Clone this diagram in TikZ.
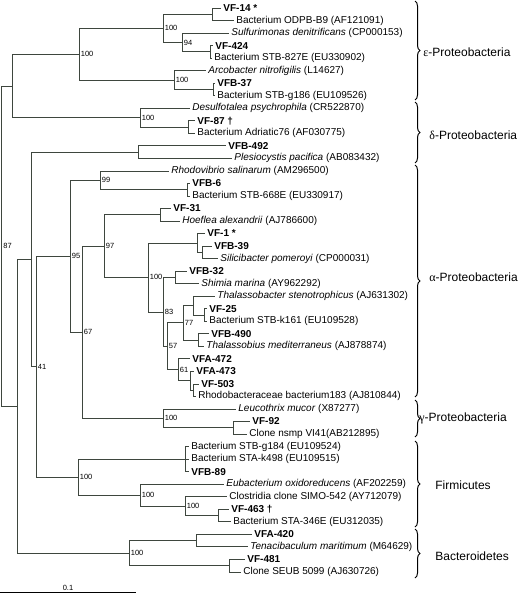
\documentclass[tikz,border=0pt]{standalone}
\usepackage{fontspec}
\setmainfont{Liberation Sans}
\newfontfamily\grk{Liberation Serif}
\usetikzlibrary{positioning, decorations.pathreplacing}
\definecolor{treeline}{RGB}{62,70,62}

\begin{document}
\begin{tikzpicture}[x=1pt, y=-1pt, line width=0.8pt,
  taxon/.style={anchor=west, inner sep=2pt, font=\fontsize{10}{11}\selectfont},
  isolate/.style={taxon, font=\fontsize{10}{11}\selectfont\bfseries},
  boot/.style={anchor=west, inner sep=0.5pt, font=\fontsize{7.5}{8}\selectfont},
  clade/.style={anchor=west, inner sep=0pt, font=\fontsize{12}{14}\selectfont},
  bracket/.style={decorate, decoration={brace, amplitude=5pt}, line width=1pt}]

  \useasboundingbox (0,0) rectangle (520,594);

  % --- 1. taxa ---
  \node[isolate] (VF14)    at (221,8.0)   {VF-14 *};
  \node[taxon]   (ODPB)    at (234,20.5)  {Bacterium ODPB-B9 (AF121091)};
  \node[taxon]   (Sulf)    at (229,33.1)  {\textit{Sulfurimonas denitrificans} (CP000153)};
  \node[isolate] (VF424)   at (213,45.6)  {VF-424};
  \node[taxon]   (STB827)  at (212,58.1)  {Bacterium STB-827E (EU330902)};
  \node[taxon]   (Arco)    at (206,70.7)  {\textit{Arcobacter nitrofigilis} (L14627)};
  \node[isolate] (VFB37)   at (215,83.2)  {VFB-37};
  \node[taxon]   (STBg186) at (215,95.7)  {Bacterium STB-g186 (EU109526)};
  \node[taxon]   (Desulf)  at (190,108.2) {\textit{Desulfotalea psychrophila} (CR522870)};
  \node[isolate] (VF87)    at (195,120.8) {VF-87 †};
  \node[taxon]   (Adri)    at (195,133.3) {Bacterium Adriatic76 (AF030775)};
  \node[isolate] (VFB492)  at (226,145.8) {VFB-492};
  \node[taxon]   (Plesio)  at (232,158.4) {\textit{Plesiocystis pacifica} (AB083432)};
  \node[taxon]   (Rhodov)  at (169,170.9) {\textit{Rhodovibrio salinarum} (AM296500)};
  \node[isolate] (VFB6)    at (190,183.4) {VFB-6};
  \node[taxon]   (STB668)  at (190,196.0) {Bacterium STB-668E (EU330917)};
  \node[isolate] (VF31)    at (171,208.5) {VF-31};
  \node[taxon]   (Hoef)    at (180,221.0) {\textit{Hoeflea alexandrii} (AJ786600)};
  \node[isolate] (VF1)     at (205,233.5) {VF-1 *};
  \node[isolate] (VFB39)   at (212,246.1) {VFB-39};
  \node[taxon]   (Silici)  at (218,258.6) {\textit{Silicibacter pomeroyi} (CP000031)};
  \node[isolate] (VFB32)   at (187,271.1) {VFB-32};
  \node[taxon]   (Shimia)  at (199,283.7) {\textit{Shimia marina} (AY962292)};
  \node[taxon]   (Thbact)  at (215,296.2) {\textit{Thalassobacter stenotrophicus} (AJ631302)};
  \node[isolate] (VF25)    at (207,308.7) {VF-25};
  \node[taxon]   (STBk161) at (207,321.3) {Bacterium STB-k161 (EU109528)};
  \node[isolate] (VFB490)  at (209,333.8) {VFB-490};
  \node[taxon]   (Thbius)  at (204,346.3) {\textit{Thalassobius mediterraneus} (AJ878874)};
  \node[isolate] (VFA472)  at (190,358.8) {VFA-472};
  \node[isolate] (VFA473)  at (194,371.4) {VFA-473};
  \node[isolate] (VF503)   at (199,383.9) {VF-503};
  \node[taxon]   (Rhodob)  at (196,396.4) {Rhodobacteraceae bacterium183 (AJ810844)};
  \node[taxon]   (Leuco)   at (236,409.0) {\textit{Leucothrix mucor} (X87277)};
  \node[isolate] (VF92)    at (250,421.5) {VF-92};
  \node[taxon]   (Nsmp)    at (247,434.0) {Clone nsmp VI41(AB212895)};
  \node[taxon]   (STBg184) at (189,446.6) {Bacterium STB-g184 (EU109524)};
  \node[taxon]   (STAk498) at (189,459.1) {Bacterium STA-k498 (EU109515)};
  \node[isolate] (VFB89)   at (189,471.6) {VFB-89};
  \node[taxon]   (Eubact)  at (224,484.1) {\textit{Eubacterium oxidoreducens} (AF202259)};
  \node[taxon]   (Clostr)  at (227,496.7) {Clostridia clone SIMO-542 (AY712079)};
  \node[isolate] (VF463)   at (229,509.2) {VF-463 †};
  \node[taxon]   (STA346)  at (231,521.7) {Bacterium STA-346E (EU312035)};
  \node[isolate] (VFA420)  at (252,534.3) {VFA-420};
  \node[taxon]   (Tenaci)  at (248,546.8) {\textit{Tenacibaculum maritimum} (M64629)};
  \node[isolate] (VF481)   at (245,559.3) {VF-481};
  \node[taxon]   (SEUB)    at (241,571.9) {Clone SEUB 5099 (AJ630726)};

  % --- 2. inner nodes ---
  \coordinate (Root)     at (1.5,246.1);
  \coordinate (EpsDelta) at (12,85.9);
  \coordinate (Eps)      at (79,54.2);
  \coordinate (EpsA)     at (163,28.4);
  \coordinate (EpsA1)    at (212,14.3);
  \coordinate (EpsA2)    at (182,42.5);
  \coordinate (EpsA3)    at (210,51.9);
  \coordinate (EpsB)     at (174,80.1);
  \coordinate (EpsB1)    at (213,89.5);
  \coordinate (Delta)    at (140,117.6);
  \coordinate (Delta1)   at (188,127.0);
  \coordinate (Rest)     at (17,406.3);
  \coordinate (Upper)    at (31,259.4);
  \coordinate (Myxo)     at (138,152.1);
  \coordinate (AlphaFirm) at (36,366.7);
  \coordinate (Alpha)    at (70,256.3);
  \coordinate (Rhodo)    at (100,180.3);
  \coordinate (Rhodo1)   at (187,189.7);
  \coordinate (AlGam)    at (82,332.3);
  \coordinate (Al97)     at (104,246.1);
  \coordinate (Hoe)      at (160,214.8);
  \coordinate (Al100)    at (148,277.4);
  \coordinate (Sili)     at (197,242.9);
  \coordinate (Sili1)    at (202,252.3);
  \coordinate (Al83)     at (163,311.9);
  \coordinate (Shim)     at (175,277.4);
  \coordinate (Al57)     at (167,346.3);
  \coordinate (Al77)     at (183,322.8);
  \coordinate (Thb)      at (193,305.6);
  \coordinate (Thb1)     at (204,315.0);
  \coordinate (Thi)      at (198,340.1);
  \coordinate (Al61)     at (178,369.8);
  \coordinate (Rb)       at (190,380.8);
  \coordinate (Rb1)      at (193,390.2);
  \coordinate (Gamma)    at (163,418.4);
  \coordinate (Gamma1)   at (233,427.8);
  \coordinate (Firm)     at (78,477.1);
  \coordinate (Firm1)    at (185,459.1);
  \coordinate (Firm2)    at (140,495.1);
  \coordinate (Firm3)    at (185,506.1);
  \coordinate (Firm4)    at (218,515.5);
  \coordinate (Bact)     at (129,553.1);
  \coordinate (Bact1)    at (196,540.6);
  \coordinate (Bact2)    at (229,565.6);

  % --- 3. branches ---
  \begin{scope}[treeline]
    % epsilon / delta
    \draw (EpsA1) |- (VF14.west) (EpsA1) |- (ODPB.west);
    \draw (EpsA3) |- (VF424.west) (EpsA3) |- (STB827.west);
    \draw (EpsA2) |- (Sulf.west) (EpsA2) |- (EpsA3);
    \draw (EpsA) |- (EpsA1) (EpsA) |- (EpsA2);
    \draw (EpsB1) |- (VFB37.west) (EpsB1) |- (STBg186.west);
    \draw (EpsB) |- (Arco.west) (EpsB) |- (EpsB1);
    \draw (Eps) |- (EpsA) (Eps) |- (EpsB);
    \draw (Delta1) |- (VF87.west) (Delta1) |- (Adri.west);
    \draw (Delta) |- (Desulf.west) (Delta) |- (Delta1);
    \draw (EpsDelta) |- (Eps) (EpsDelta) |- (Delta);
    \draw (Myxo) |- (VFB492.west) (Myxo) |- (Plesio.west);
    % alpha
    \draw (Rhodo1) |- (VFB6.west) (Rhodo1) |- (STB668.west);
    \draw (Rhodo) |- (Rhodov.west) (Rhodo) |- (Rhodo1);
    \draw (Hoe) |- (VF31.west) (Hoe) |- (Hoef.west);
    \draw (Sili1) |- (VFB39.west) (Sili1) |- (Silici.west);
    \draw (Sili) |- (VF1.west) (Sili) |- (Sili1);
    \draw (Shim) |- (VFB32.west) (Shim) |- (Shimia.west);
    \draw (Thb1) |- (VF25.west) (Thb1) |- (STBk161.west);
    \draw (Thb) |- (Thbact.west) (Thb) |- (Thb1);
    \draw (Thi) |- (VFB490.west) (Thi) |- (Thbius.west);
    \draw (Al77) |- (Thb) (Al77) |- (Thi);
    \draw (Rb1) |- (VF503.west) (Rb1) |- (Rhodob.west);
    \draw (Rb) |- (VFA473.west) (Rb) |- (Rb1);
    \draw (Al61) |- (VFA472.west) (Al61) |- (Rb);
    \draw (Al57) |- (Al77) (Al57) |- (Al61);
    \draw (Al83) |- (Shim) (Al83) |- (Al57);
    \draw (Al100) |- (Sili) (Al100) |- (Al83);
    \draw (Al97) |- (Hoe) (Al97) |- (Al100);
    % gamma
    \draw (Gamma1) |- (VF92.west) (Gamma1) |- (Nsmp.west);
    \draw (Gamma) |- (Leuco.west) (Gamma) |- (Gamma1);
    \draw (AlGam) |- (Al97) (AlGam) |- (Gamma);
    \draw (Alpha) |- (Rhodo) (Alpha) |- (AlGam);
    % firmicutes
    \draw (Firm1) |- (STBg184.west) (Firm1) |- (STAk498.west) (Firm1) |- (VFB89.west);
    \draw (Firm4) |- (VF463.west) (Firm4) |- (STA346.west);
    \draw (Firm3) |- (Clostr.west) (Firm3) |- (Firm4);
    \draw (Firm2) |- (Eubact.west) (Firm2) |- (Firm3);
    \draw (Firm) |- (Firm1) (Firm) |- (Firm2);
    % bacteroidetes
    \draw (Bact1) |- (VFA420.west) (Bact1) |- (Tenaci.west);
    \draw (Bact2) |- (VF481.west) (Bact2) |- (SEUB.west);
    \draw (Bact) |- (Bact1) (Bact) |- (Bact2);
    % backbone
    \draw (AlphaFirm) |- (Alpha) (AlphaFirm) |- (Firm);
    \draw (Upper) |- (Myxo) (Upper) |- (AlphaFirm);
    \draw (Rest) |- (Upper) (Rest) |- (Bact);
    \draw (Root) |- (EpsDelta) (Root) |- (Rest);
  \end{scope}

  % --- 4. bootstrap values ---
  \node[boot, right=1pt of Root]  (bRoot)  {87};
  \node[boot, right=1pt of Eps]   (bEps)   {100};
  \node[boot, right=1pt of EpsA]  (bEpsA)  {100};
  \node[boot, right=1pt of EpsA2] (bEpsA2) {94};
  \node[boot, right=1pt of EpsB]  (bEpsB)  {100};
  \node[boot, right=1pt of Delta] (bDelta) {100};
  \node[boot, right=1pt of AlphaFirm] (bAF) {41};
  \node[boot, right=1pt of Alpha] (bAlpha) {95};
  \node[boot, right=1pt of Rhodo] (bRhodo) {99};
  \node[boot, right=1pt of AlGam] (bAlGam) {67};
  \node[boot, right=1pt of Al97]  (bAl97)  {97};
  \node[boot, right=1pt of Al100] (bAl100) {100};
  \node[boot, right=1pt of Al83]  (bAl83)  {83};
  \node[boot, right=1pt of Al57]  (bAl57)  {57};
  \node[boot, right=1pt of Al77]  (bAl77)  {77};
  \node[boot, right=1pt of Al61]  (bAl61)  {61};
  \node[boot, right=1pt of Gamma] (bGamma) {100};
  \node[boot, right=1pt of Firm]  (bFirm)  {100};
  \node[boot, right=1pt of Firm2] (bFirm2) {100};
  \node[boot, right=1pt of Firm3] (bFirm3) {100};
  \node[boot, right=1pt of Bact]  (bBact)  {100};

  % --- 5. clades ---
  \draw[bracket] (415,1)   -- (415,100);
  \draw[bracket] (415,102) -- (415,163);
  \draw[bracket] (415,165) -- (415,397);
  \draw[bracket] (415,400) -- (415,437);
  \draw[bracket] (415,441) -- (415,527);
  \draw[bracket] (415,529) -- (415,578);
  \node[clade] (cEps)   at (423,52)  {{\grk ε}-Proteobacteria};
  \node[clade] (cDelta) at (429,135) {{\grk δ}-Proteobacteria};
  \node[clade] (cAlpha) at (429,277) {{\grk α}-Proteobacteria};
  \node[clade] (cGamma) at (419,418) {{\grk γ}-Proteobacteria};
  \node[clade] (cFirm)  at (435,485) {Firmicutes};
  \node[clade] (cBact)  at (435,556) {Bacteroidetes};

  % --- 6. scale bar ---
  \coordinate (BarL) at (0,592.5);
  \coordinate (BarR) at (136,592.5);
  \draw[line width=1.6pt] (BarL) -- (BarR);
  \node[boot, anchor=south] (BarLab) at (68,591) {0.1};

\end{tikzpicture}
\end{document}
